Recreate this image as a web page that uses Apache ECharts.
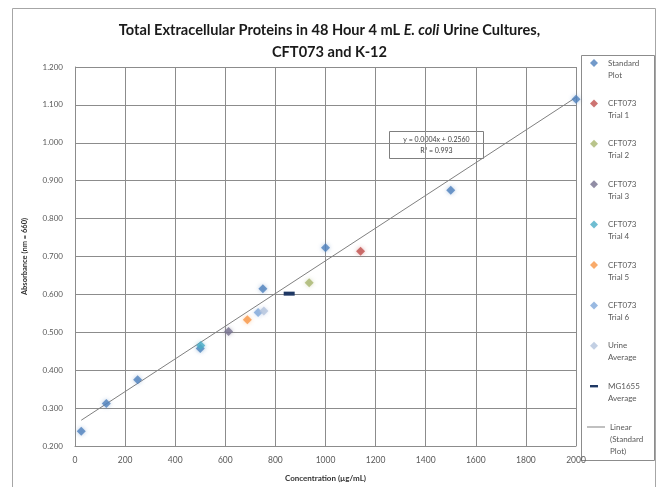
<!DOCTYPE html>
<html>
<head>
<meta charset="utf-8">
<script src="https://cdn.jsdelivr.net/npm/echarts@6/dist/echarts.min.js"></script>
<style>html,body{margin:0;padding:0;background:#fff}#c{width:659px;height:487px}</style>
</head>
<body>
<div id="c"></div>
<script>
// ---- data ----
const xTicks = [0, 200, 400, 600, 800, 1000, 1200, 1400, 1600, 1800, 2000];
const yTicks = [0.2, 0.3, 0.4, 0.5, 0.6, 0.7, 0.8, 0.9, 1.0, 1.1, 1.2];
const standardX = [25, 125, 250, 500, 750, 1000, 1500, 2000];
const standardY = [0.239, 0.312, 0.375, 0.457, 0.615, 0.723, 0.875, 1.115];
const trial1 = [[1140, 0.714]];
const trial2 = [[935, 0.631]];
const trial3 = [[613, 0.502]];
const trial4 = [[502, 0.465]];
const trial5 = [[688, 0.533]];
const trial6 = [[731, 0.552]];
const urineAverage = [[754, 0.556]];
const mg1655Average = [[855, 0.602]];
const equationText = 'y = 0.0004x + 0.2560';
const r2Text = 'R² = 0.993';

// linear regression of the standard plot
function fit(xs, ys) {
  const n = xs.length;
  const mx = xs.reduce((a, b) => a + b, 0) / n;
  const my = ys.reduce((a, b) => a + b, 0) / n;
  let sxy = 0, sxx = 0;
  for (let i = 0; i < n; i++) { sxy += (xs[i] - mx) * (ys[i] - my); sxx += (xs[i] - mx) ** 2; }
  const m = sxy / sxx;
  return { m, b: my - m * mx };
}
const reg = fit(standardX, standardY);
const xMin = Math.min(...standardX), xMax = Math.max(...standardX);
const trendData = [[xMin, reg.b + reg.m * xMin], [xMax, reg.b + reg.m * xMax]];
const standardData = standardX.map((x, i) => [x, standardY[i]]);

const FONT = 'Lato';
function diamond(name, data, color) {
  return {
    name, type: 'scatter', data, symbol: 'diamond', symbolSize: 9, symbolKeepAspect: true,
    itemStyle: { color, shadowBlur: 4, shadowColor: color + '88' },
    z: 3
  };
}
const series = [
  diamond('Standard\nPlot', standardData, '#4F81BD'),
  diamond('CFT073\nTrial 1', trial1, '#C0504D'),
  diamond('CFT073\nTrial 2', trial2, '#A8B56E'),
  diamond('CFT073\nTrial 3', trial3, '#76708F'),
  diamond('CFT073\nTrial 4', trial4, '#4BACC6'),
  diamond('CFT073\nTrial 5', trial5, '#F79646'),
  diamond('CFT073\nTrial 6', trial6, '#7FA7D9'),
  diamond('Urine\nAverage', urineAverage, '#B3C3DC'),
  {
    name: 'MG1655\nAverage', type: 'scatter', data: mg1655Average,
    symbol: 'path://M0,0 H10 V3 H0 Z', symbolSize: [11, 4], symbolKeepAspect: false,
    itemStyle: { color: '#1F3864', opacity: 1 }, z: 4
  },
  {
    name: 'Linear\n(Standard\nPlot)', type: 'line', data: trendData, symbol: 'none', showSymbol: false,
    lineStyle: { color: '#808080', width: 1 }, itemStyle: { color: '#808080' }, z: 2, silent: true
  }
];

const chart = echarts.init(document.getElementById('c'));
const L = 12;
const legendText = { fontFamily: FONT, fontSize: 8, color: '#595959', lineHeight: L, padding: [0, 0, 0, 5] };
chart.setOption({
  backgroundColor: '#fff',
  animation: false,
  textStyle: { fontFamily: FONT },
  title: [
    {
      text: '{b|Total Extracellular Proteins in 48 Hour 4 mL }{i|E. coli}{b| Urine Cultures,}',
      left: 'center', top: 18,
      textStyle: { rich: {
        b: { fontFamily: FONT, fontWeight: 'bold', fontSize: 14.6, color: '#1a1a1a' },
        i: { fontFamily: FONT, fontWeight: 'bold', fontStyle: 'italic', fontSize: 14.6, color: '#1a1a1a' }
      } }
    },
    {
      text: 'CFT073 and K-12', left: 'center', top: 40,
      textStyle: { fontFamily: FONT, fontWeight: 'bold', fontSize: 14.6, color: '#1a1a1a' }
    }
  ],
  grid: { left: 75, right: 83, top: 67, bottom: 29, containLabel: false },
  xAxis: {
    type: 'value', min: xTicks[0], max: xTicks[xTicks.length - 1], interval: xTicks[1] - xTicks[0],
    name: 'Concentration (µg/mL)', nameLocation: 'middle', nameGap: 28,
    nameTextStyle: { fontFamily: FONT, fontWeight: 'bold', fontSize: 8, color: '#333' },
    axisLine: { show: true, lineStyle: { color: '#8C8C8C' } },
    axisTick: { show: false },
    axisLabel: { fontFamily: FONT, fontSize: 8.5, color: '#595959', margin: 10, formatter: v => String(v) },
    splitLine: { show: true, lineStyle: { color: '#8C8C8C' } }
  },
  yAxis: {
    type: 'value', min: yTicks[0], max: yTicks[yTicks.length - 1], interval: 0.1,
    name: 'Absorbance (nm = 660)', nameLocation: 'middle', nameGap: 46,
    nameTextStyle: { fontFamily: FONT, fontWeight: 'bold', fontSize: 7.5, color: '#333' },
    axisLine: { show: true, lineStyle: { color: '#8C8C8C' } },
    axisTick: { show: false },
    axisLabel: { fontFamily: FONT, fontSize: 8, color: '#595959', margin: 12, formatter: v => v.toFixed(3) },
    splitLine: { show: true, lineStyle: { color: '#8C8C8C' } }
  },
  legend: [
    {
      data: series.slice(0, 9).map(s => s.name),
      orient: 'vertical', left: 590, top: 45, padding: 0,
      itemWidth: 8, itemHeight: 8, itemGap: 40.4 - 3 * L,
      formatter: name => ' \n' + name,
      textStyle: legendText,
      selectedMode: false
    },
    {
      data: [{ name: series[9].name, icon: 'rect', itemStyle: { color: '#808080' } }],
      orient: 'vertical', left: 587, top: 427 - 2.5 * L, padding: 0,
      itemWidth: 18, itemHeight: 1,
      formatter: name => ' \n \n' + name,
      textStyle: Object.assign({}, legendText, { padding: [0, 0, 0, 0] }),
      selectedMode: false
    }
  ],
  graphic: [
    { type: 'rect', shape: { x: 12.5, y: 8.5, width: 643, height: 490 }, style: { fill: 'none', stroke: '#A6A6A6', lineWidth: 1 }, silent: true },
    { type: 'rect', shape: { x: 581.5, y: 55.5, width: 73, height: 405 }, style: { fill: 'none', stroke: '#8C8C8C', lineWidth: 1 }, silent: true },
    {
      type: 'group', left: 389, top: 131, z: 10,
      children: [
        { type: 'rect', shape: { x: 0.5, y: 0.5, width: 94, height: 27 }, style: { fill: '#fff', stroke: '#7F7F7F', lineWidth: 1 } },
        { type: 'text', style: { text: equationText + '\n' + r2Text, x: 47.5, y: 14, align: 'center', verticalAlign: 'middle', fontFamily: FONT, fontSize: 7, lineHeight: 11, fill: '#404040' } }
      ]
    }
  ],
  series
});
</script>
</body>
</html>
